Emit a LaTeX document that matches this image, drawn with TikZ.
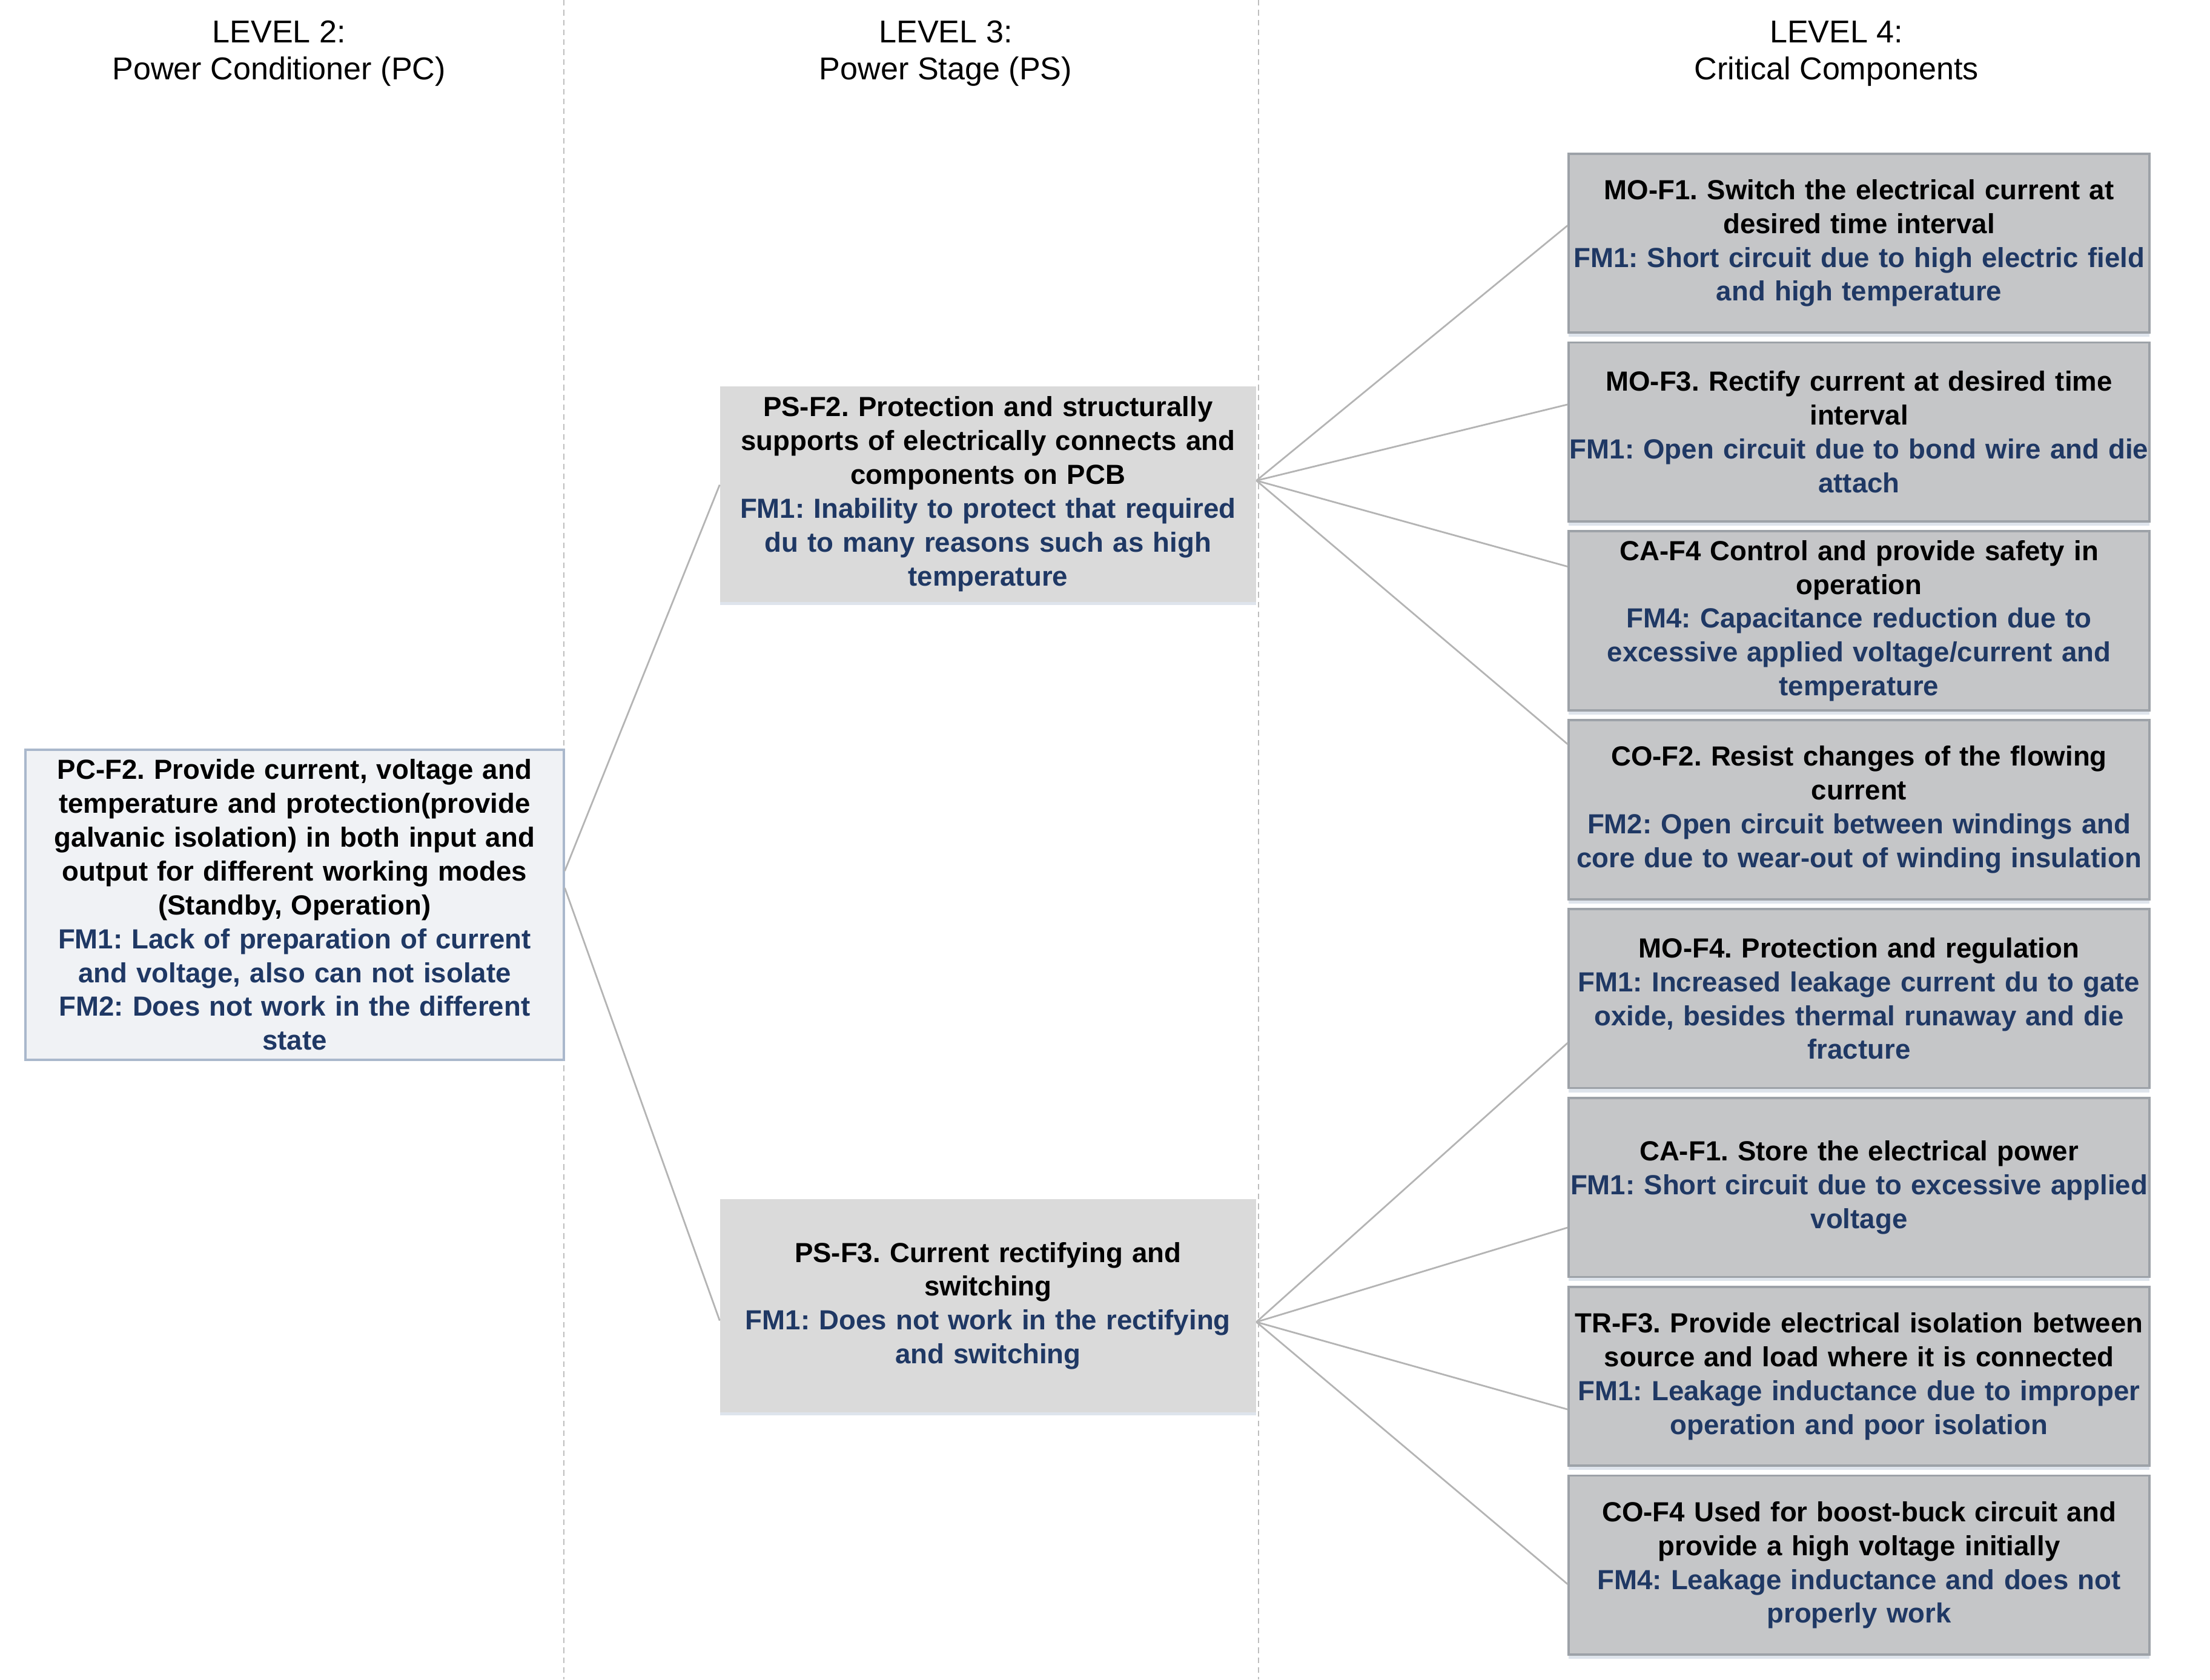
\documentclass[tikz,border=0pt]{standalone}
\usepackage{fontspec}
\setmainfont{Liberation Sans}
\usetikzlibrary{calc}
\usetikzlibrary{shadows}
\frenchspacing
\hyphenpenalty=10000
\exhyphenpenalty=10000

\definecolor{fmblue}{RGB}{31,56,100}
\definecolor{pcfill}{RGB}{240,242,245}
\definecolor{pcedge}{RGB}{170,184,204}
\definecolor{psfill}{RGB}{218,218,218}
\definecolor{ccfill}{RGB}{197,198,200}
\definecolor{ccedge}{RGB}{157,162,168}
\definecolor{shadowc}{RGB}{222,228,236}
\definecolor{linkgray}{RGB}{180,180,180}
\definecolor{sepgray}{RGB}{190,190,190}

\tikzset{
 levelhead/.style={align=center, font=\fontsize{11.2}{13}\selectfont},
 fbox/.style={align=center, inner xsep=-4pt, inner ysep=0pt, font=\bfseries\fontsize{9.8}{12}\selectfont},
 pcbox/.style={fbox, draw=pcedge, fill=pcfill, line width=0.7pt, text width=199pt, minimum height=110pt},
 psbox/.style={fbox, fill=psfill, text width=198pt,
   drop shadow={shadow xshift=0pt, shadow yshift=-1.2pt, fill=shadowc, opacity=1}},
 ccbox/.style={fbox, draw=ccedge, fill=ccfill, line width=0.8pt, text width=214pt, minimum height=63.5pt,
   drop shadow={shadow xshift=0pt, shadow yshift=-1.5pt, fill=shadowc, opacity=1}},
 link/.style={linkgray, line width=0.6pt},
}

\begin{document}
\begin{tikzpicture}[x=0.5pt, y=-0.5pt]
\useasboundingbox (0,0) rectangle (1568,1191.6);
% column separators
\foreach \x in {400,893} {
 \draw[sepgray, line width=0.5pt, dash pattern=on 2pt off 1.5pt] (\x,0) -- (\x,1191.6);
}
% level headings
\node[levelhead] (lvl2) at (198,38) {LEVEL 2:\\Power Conditioner (PC)};
\node[levelhead] (lvl3) at (671,38) {LEVEL 3:\\Power Stage (PS)};
\node[levelhead] (lvl4) at (1303,38) {LEVEL 4:\\Critical Components};

% level 2
\node[pcbox] (pcf2) at (209,642) {PC-F2. Provide current, voltage and\\
 temperature and protection(provide\\ galvanic isolation) in both input and\\
 output for different working modes\\ (Standby, Operation)\\
 \color{fmblue}FM1: Lack of preparation of current\\ and voltage, also can not isolate\\
 FM2: Does not work in the different\\ state};

% level 3
\node[psbox, minimum height=76.5pt] (psf2) at (701,350.5) {PS-F2. Protection and structurally\\
 supports of electrically connects and\\ components on PCB\\
 \color{fmblue}FM1: Inability to protect that required\\ du to many reasons such as high\\ temperature};
\node[psbox, minimum height=75.5pt] (psf3) at (701,926.5) {PS-F3. Current rectifying and\\ switching\\
 \color{fmblue}FM1: Does not work in the rectifying\\ and switching};

% level 4
\node[ccbox] (mof1) at (1319,172.5) {MO-F1. Switch the electrical current at\\ desired time interval\\
 \color{fmblue}FM1: Short circuit due to high electric field\\ and high temperature};
\node[ccbox] (mof3) at (1319,306.5) {MO-F3. Rectify current at desired time\\ interval\\
 \color{fmblue}FM1: Open circuit due to bond wire and die\\ attach};
\node[ccbox] (caf4) at (1319,440.5) {CA-F4 Control and provide safety in\\ operation\\
 \color{fmblue}FM4: Capacitance reduction due to\\ excessive applied voltage/current and\\ temperature};
\node[ccbox] (cof2) at (1319,574.5) {CO-F2. Resist changes of the flowing\\ current\\
 \color{fmblue}FM2: Open circuit between windings and\\ core due to wear-out of winding insulation};
\node[ccbox] (mof4) at (1319,708.5) {MO-F4. Protection and regulation\\
 \color{fmblue}FM1: Increased leakage current du to gate\\ oxide, besides thermal runaway and die\\ fracture};
\node[ccbox] (caf1) at (1319,842.5) {CA-F1. Store the electrical power\\
 \color{fmblue}FM1: Short circuit due to excessive applied\\ voltage};
\node[ccbox] (trf3) at (1319,976.5) {TR-F3. Provide electrical isolation between\\ source and load where it is connected\\
 \color{fmblue}FM1: Leakage inductance due to improper\\ operation and poor isolation};
\node[ccbox] (cof4) at (1319,1110.5) {CO-F4 Used for boost-buck circuit and\\ provide a high voltage initially\\
 \color{fmblue}FM4: Leakage inductance and does not\\ properly work};

% links
\draw[link] ($(pcf2.east)+(0,-24)$) -- ($(psf2.west)+(0,-6.5)$);
\draw[link] ($(pcf2.east)+(0,-12)$) -- ($(psf3.west)+(0,10.5)$);
\foreach \n/\d in {mof1/-12.5, mof3/-19.5, caf4/-38.5, cof2/-46.5} {
 \draw[link] ($(psf2.east)+(0,-9.5)$) -- ($(\n.west)+(0,\d)$);
}
\foreach \n/\d in {mof4/31.5, caf1/28.5, trf3/23.5, cof4/13.5} {
 \draw[link] ($(psf3.east)+(0,11.5)$) -- ($(\n.west)+(0,\d)$);
}
\end{tikzpicture}
\end{document}
